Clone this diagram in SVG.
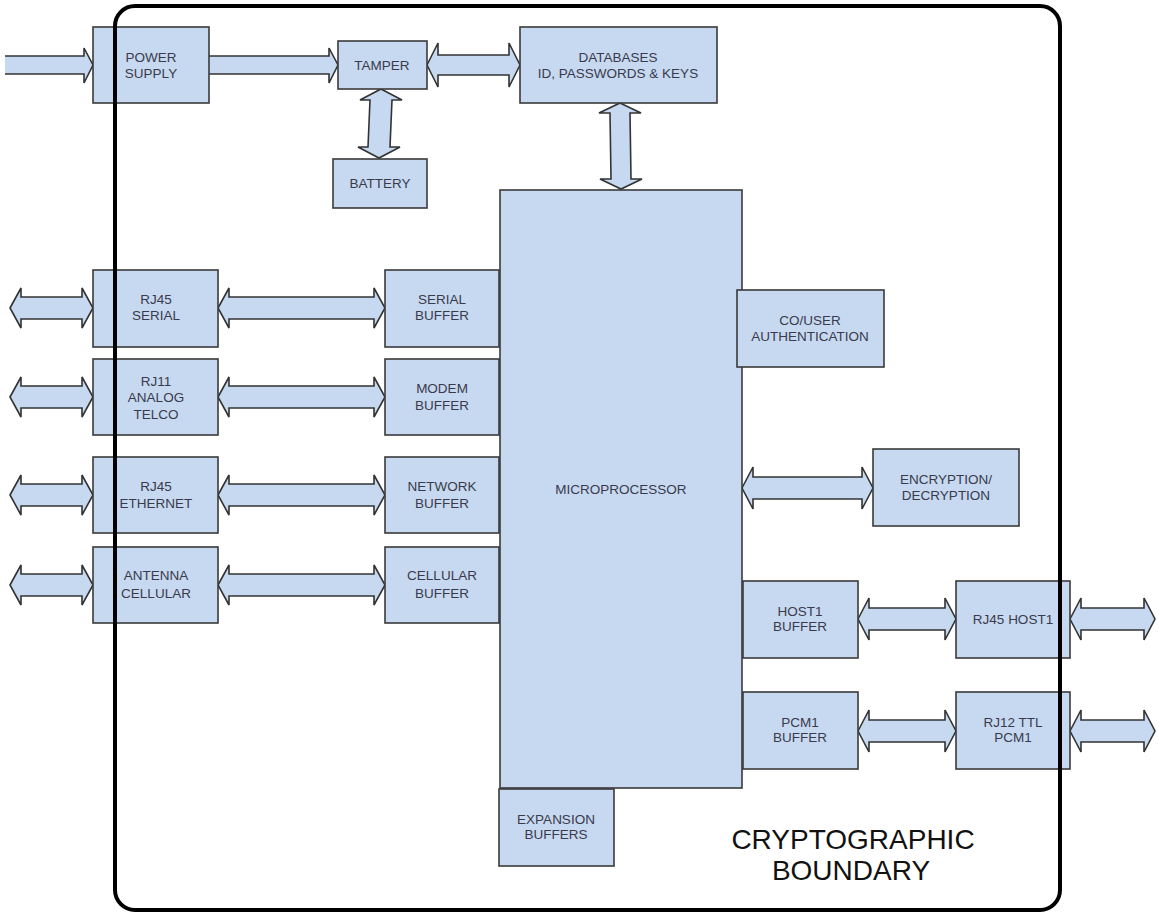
<svg xmlns="http://www.w3.org/2000/svg" width="1159" height="919" viewBox="0 0 1159 919">
  <style>
    .box { fill: #c6d9f0; stroke: #3a3a3a; stroke-width: 1.6; }
    .arrow { fill: #c6d9f0; stroke: #333; stroke-width: 1.6; stroke-linejoin: miter; }
    .lbl { font-family: "Liberation Sans", Arial, sans-serif; font-size: 13.5px; fill: #3a3a4c; text-anchor: middle; }
    .title { font-family: "Liberation Sans", Arial, sans-serif; font-size: 28px; fill: #111; text-anchor: middle; }
    .boundary { fill: none; stroke: #000; stroke-width: 4; }
  </style>
  <rect width="1159" height="919" fill="#fff"/>

  <g id="connectors">
    <!-- power feed and power to tamper -->
    <path class="arrow" d="M5,56 H84 V48 L93,65 L84,83 V74 H5"/>
    <path class="arrow" d="M209,56 H329 V48 L338,65 L329,83 V74 H209"/>
    <polygon class="arrow" points="427,65 438,43 438,55 509,55 509,43 520,65 509,87 509,75 438,75 438,87"/>
    <polygon class="arrow" points="381,89 402,100 392,100 390,147 400,147 379,158 358,147 368,147 370,100 360,100"/>
    <polygon class="arrow" points="620,103 641,113 630,113 631,179 642,179 621,189 600,179 611,179 610,113 599,113"/>
    <!-- external ports, left -->
    <polygon class="arrow" points="10,308 21,288 21,297 82,297 82,288 93,308 82,328 82,319 21,319 21,328"/>
    <polygon class="arrow" points="10,397 21,377 21,386 82,386 82,377 93,397 82,417 82,408 21,408 21,417"/>
    <polygon class="arrow" points="10,495 21,475 21,484 82,484 82,475 93,495 82,515 82,506 21,506 21,515"/>
    <polygon class="arrow" points="10,585 21,565 21,574 82,574 82,565 93,585 82,605 82,596 21,596 21,605"/>
    <!-- ports to buffers -->
    <polygon class="arrow" points="218,308 229,288 229,297 374,297 374,288 385,308 374,328 374,319 229,319 229,328"/>
    <polygon class="arrow" points="218,397 229,377 229,386 374,386 374,377 385,397 374,417 374,408 229,408 229,417"/>
    <polygon class="arrow" points="218,495 229,475 229,484 374,484 374,475 385,495 374,515 374,506 229,506 229,515"/>
    <polygon class="arrow" points="218,585 229,565 229,574 374,574 374,565 385,585 374,605 374,596 229,596 229,605"/>
    <!-- microprocessor to encryption -->
    <polygon class="arrow" points="742,488 753,467 753,477 862,477 862,467 873,488 862,509 862,499 753,499 753,509"/>
    <!-- right-hand ports -->
    <polygon class="arrow" points="858,619 869,598 869,608 945,608 945,598 956,619 945,640 945,630 869,630 869,640"/>
    <polygon class="arrow" points="1070,619 1081,598 1081,608 1144,608 1144,598 1155,619 1144,640 1144,630 1081,630 1081,640"/>
    <polygon class="arrow" points="858,731 869,710 869,720 945,720 945,710 956,731 945,752 945,742 869,742 869,752"/>
    <polygon class="arrow" points="1070,731 1081,710 1081,720 1144,720 1144,710 1155,731 1144,752 1144,742 1081,742 1081,752"/>
  </g>

  <g id="power-supply"><rect class="box" x="93" y="27" width="116" height="76"/>
    <text class="lbl" x="151" y="62">POWER</text><text class="lbl" x="151" y="78">SUPPLY</text></g>
  <g id="tamper"><rect class="box" x="338" y="41" width="89" height="48"/>
    <text class="lbl" x="382" y="70">TAMPER</text></g>
  <g id="battery"><rect class="box" x="333" y="159" width="94" height="49"/>
    <text class="lbl" x="380" y="188">BATTERY</text></g>
  <g id="databases"><rect class="box" x="520" y="27" width="197" height="76"/>
    <text class="lbl" x="618" y="62">DATABASES</text><text class="lbl" x="618" y="78">ID, PASSWORDS &amp; KEYS</text></g>
  <g id="microprocessor"><rect class="box" x="500" y="190" width="242" height="598"/>
    <text class="lbl" x="621" y="494">MICROPROCESSOR</text></g>

  <g id="rj45-serial"><rect class="box" x="93" y="270" width="125" height="77"/>
    <text class="lbl" x="156" y="304">RJ45</text><text class="lbl" x="156" y="320">SERIAL</text></g>
  <g id="rj11-telco"><rect class="box" x="93" y="359" width="125" height="76"/>
    <text class="lbl" x="156" y="386">RJ11</text><text class="lbl" x="156" y="402">ANALOG</text><text class="lbl" x="156" y="419">TELCO</text></g>
  <g id="rj45-ethernet"><rect class="box" x="93" y="457" width="125" height="76"/>
    <text class="lbl" x="156" y="491">RJ45</text><text class="lbl" x="156" y="508">ETHERNET</text></g>
  <g id="antenna-cellular"><rect class="box" x="93" y="547" width="125" height="76"/>
    <text class="lbl" x="156" y="580">ANTENNA</text><text class="lbl" x="156" y="598">CELLULAR</text></g>

  <g id="serial-buffer"><rect class="box" x="385" y="270" width="114" height="77"/>
    <text class="lbl" x="442" y="304">SERIAL</text><text class="lbl" x="442" y="320">BUFFER</text></g>
  <g id="modem-buffer"><rect class="box" x="385" y="359" width="114" height="76"/>
    <text class="lbl" x="442" y="393">MODEM</text><text class="lbl" x="442" y="410">BUFFER</text></g>
  <g id="network-buffer"><rect class="box" x="385" y="457" width="114" height="76"/>
    <text class="lbl" x="442" y="491">NETWORK</text><text class="lbl" x="442" y="508">BUFFER</text></g>
  <g id="cellular-buffer"><rect class="box" x="385" y="547" width="114" height="76"/>
    <text class="lbl" x="442" y="580">CELLULAR</text><text class="lbl" x="442" y="598">BUFFER</text></g>

  <g id="co-user-auth"><rect class="box" x="737" y="290" width="147" height="77"/>
    <text class="lbl" x="810" y="325">CO/USER</text><text class="lbl" x="810" y="341">AUTHENTICATION</text></g>
  <g id="encryption"><rect class="box" x="873" y="449" width="146" height="77"/>
    <text class="lbl" x="946" y="484">ENCRYPTION/</text><text class="lbl" x="946" y="500">DECRYPTION</text></g>
  <g id="host1-buffer"><rect class="box" x="743" y="581" width="115" height="77"/>
    <text class="lbl" x="800" y="616">HOST1</text><text class="lbl" x="800" y="631">BUFFER</text></g>
  <g id="rj45-host1"><rect class="box" x="956" y="581" width="114" height="77"/>
    <text class="lbl" x="1013" y="624">RJ45 HOST1</text></g>
  <g id="pcm1-buffer"><rect class="box" x="743" y="692" width="115" height="77"/>
    <text class="lbl" x="800" y="727">PCM1</text><text class="lbl" x="800" y="742">BUFFER</text></g>
  <g id="rj12-ttl-pcm1"><rect class="box" x="956" y="692" width="114" height="77"/>
    <text class="lbl" x="1013" y="727">RJ12 TTL</text><text class="lbl" x="1013" y="742">PCM1</text></g>
  <g id="expansion-buffers"><rect class="box" x="499" y="789" width="115" height="77"/>
    <text class="lbl" x="556" y="824">EXPANSION</text><text class="lbl" x="556" y="839">BUFFERS</text></g>

  <!-- cryptographic boundary drawn over the port boxes it crosses -->
  <g id="boundary">
    <rect class="boundary" x="115" y="6" width="945" height="904" rx="20" ry="20"/>
    <text class="title" x="853" y="849">CRYPTOGRAPHIC</text>
    <text class="title" x="851" y="880">BOUNDARY</text>
  </g>
</svg>
